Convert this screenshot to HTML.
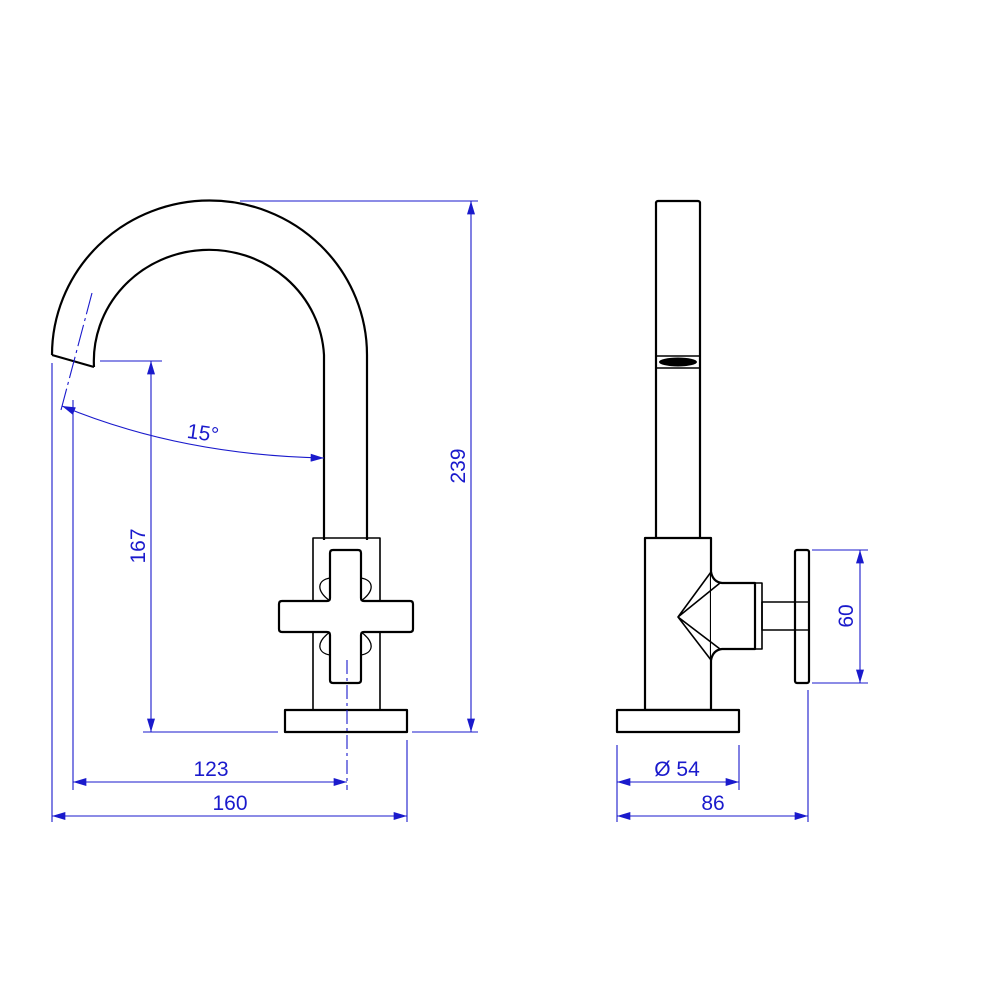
<!DOCTYPE html>
<html><head><style>body{margin:0;background:#fff}svg{display:block}</style></head><body>
<svg width="1000" height="1000" viewBox="0 0 1000 1000" xmlns="http://www.w3.org/2000/svg">
<defs>
<marker id="a" viewBox="0 0 10 6" refX="10" refY="3" markerWidth="20" markerHeight="8" markerUnits="userSpaceOnUse" orient="auto-start-reverse"><path d="M0,0 L10,3 L0,6 z" fill="#1a1acc"/></marker>
</defs>
<g fill="none" stroke="#000" stroke-width="2.2" stroke-linejoin="round">
<path d="M52,355 A157,154 0 0 1 367,355 L367,540"/>
<path d="M94,367 A115,111 0 0 1 324,355 L324,540"/>
<path d="M52,355 L94,367"/>
<rect x="313" y="538" width="67" height="172" stroke-width="1.6"/>
<path d="M330,601 C315,590 318,580 330,578 M361,601 C376,590 373,580 361,578 M330,632 C315,643 318,653 330,655 M361,632 C376,643 373,653 361,655" stroke-width="1.3"/>
<path d="M333,550 H358 Q361,550 361,553 V598 Q361,601 364,601 H410 Q413,601 413,604 V629 Q413,632 410,632 H364 Q361,632 361,635 V680 Q361,683 358,683 H333 Q330,683 330,680 V635 Q330,632 327,632 H282 Q279,632 279,629 V604 Q279,601 282,601 H327 Q330,601 330,598 V553 Q330,550 333,550 Z" fill="#fff"/>
<rect x="285" y="710" width="122" height="22"/>
<rect x="656" y="201" width="44" height="339" rx="2"/>
<line x1="656" y1="356" x2="700" y2="356" stroke-width="1.4"/>
<line x1="656" y1="368" x2="700" y2="368" stroke-width="1.4"/>
<ellipse cx="678" cy="362" rx="19" ry="4.5" fill="#000" stroke="none"/>
<rect x="645" y="538" width="66" height="172" fill="#fff"/>
<rect x="617" y="710" width="122" height="22" fill="#fff"/>
<path d="M711,572 Q713,582 722,583 H755 V649 H722 Q713,650 711,660" fill="#fff"/>
<path d="M711,572 L678,617 L711,660 M720,583 L678,617 L720,649" stroke-width="1.6"/>
<rect x="755" y="583" width="7" height="66" stroke-width="1.6"/>
<rect x="762" y="602" width="33" height="28" stroke-width="1.6"/>
<rect x="795" y="550" width="14" height="133" rx="2"/>
<line x1="795" y1="602" x2="809" y2="602" stroke-width="1.4"/><line x1="795" y1="630" x2="809" y2="630" stroke-width="1.4"/>
</g>
<g stroke="#1a1acc" stroke-width="1.1" fill="none">
<line x1="240" y1="201" x2="478" y2="201"/><line x1="412" y1="732" x2="478" y2="732"/>
<line x1="471" y1="201" x2="471" y2="732" marker-start="url(#a)" marker-end="url(#a)"/>
<line x1="100" y1="361" x2="162" y2="361"/><line x1="143" y1="732" x2="278" y2="732"/>
<line x1="151" y1="361" x2="151" y2="732" marker-start="url(#a)" marker-end="url(#a)"/>
<line x1="52" y1="363" x2="52" y2="822"/><line x1="73" y1="400" x2="73" y2="790"/>
<line x1="407" y1="740" x2="407" y2="822"/>
<line x1="347" y1="660" x2="347" y2="790" stroke-dasharray="14,4,3,4"/>
<line x1="92" y1="293" x2="61" y2="410" stroke-dasharray="22,4,3,4"/>
<line x1="73" y1="782" x2="347" y2="782" marker-start="url(#a)" marker-end="url(#a)"/>
<line x1="52" y1="816" x2="407" y2="816" marker-start="url(#a)" marker-end="url(#a)"/>
<path d="M62,406 Q180,455 324,458" marker-start="url(#a)" marker-end="url(#a)"/>
<line x1="812" y1="550" x2="868" y2="550"/><line x1="812" y1="683" x2="868" y2="683"/>
<line x1="860" y1="550" x2="860" y2="683" marker-start="url(#a)" marker-end="url(#a)"/>
<line x1="617" y1="745" x2="617" y2="822"/><line x1="739" y1="745" x2="739" y2="790"/>
<line x1="808" y1="690" x2="808" y2="822"/>
<line x1="617" y1="782" x2="739" y2="782" marker-start="url(#a)" marker-end="url(#a)"/>
<line x1="617" y1="816" x2="808" y2="816" marker-start="url(#a)" marker-end="url(#a)"/>
</g>
<g fill="#1a1acc" font-family="Liberation Sans, sans-serif" font-size="21" text-anchor="middle">
<text x="211" y="776">123</text>
<text x="230" y="810">160</text>
<text x="677" y="776">Ø 54</text>
<text x="713" y="810">86</text>
<text x="203" y="440" transform="rotate(8 203 433)">15°</text>
<text transform="translate(465,466) rotate(-90)">239</text>
<text transform="translate(145,546) rotate(-90)">167</text>
<text transform="translate(853,616) rotate(-90)">60</text>
</g>
</svg>
</body></html>
